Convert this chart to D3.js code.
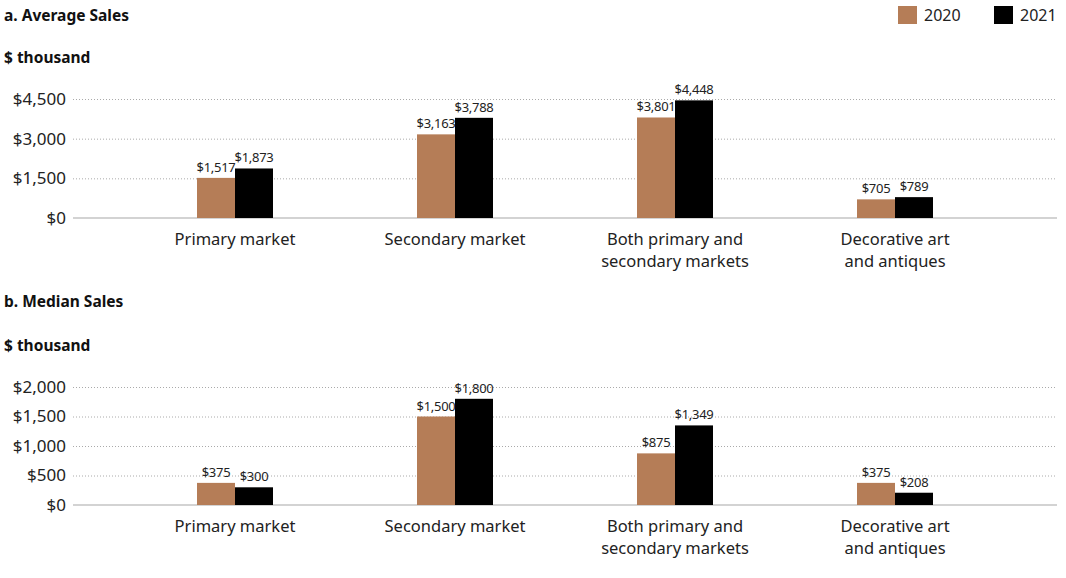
<!DOCTYPE html>
<html><head><meta charset="utf-8">
<script src="https://cdn.jsdelivr.net/npm/d3@7"></script>
<style>body{margin:0;background:#fff;}svg{display:block;font-family:"Noto Sans","Open Sans",sans-serif;}</style>
</head><body>
<svg id="c" width="1066" height="578"></svg>
<script>
const categories = [["Primary market"],["Secondary market"],["Both primary and","secondary markets"],["Decorative art","and antiques"]];
const categoryKeys = ["Primary market","Secondary market","Both primary and secondary markets","Decorative art and antiques"];
const seriesNames = ["2020","2021"];
const avg2020 = [1517,3163,3801,705];
const avg2021 = [1873,3788,4448,789];
const med2020 = [375,1500,875,375];
const med2021 = [300,1800,1349,208];
const avgTicks = [0,1500,3000,4500];
const medTicks = [0,500,1000,1500,2000];
const colors = ["#b57d57","#000000"];

const svg = d3.select("#c");
const fmt = d3.format(",");

// legend
const lg = svg.append("g");
[[898,924],[994,1020]].forEach((p,i)=>{
  lg.append("rect").attr("x",p[0]).attr("y",6).attr("width",19).attr("height",18).attr("fill",colors[i]);
  lg.append("text").attr("x",p[1]).attr("y",21).attr("font-size",16).attr("fill","#222").text(seriesNames[i]);
});

function panel(title, yTitle, titleY, unitY, top, bottom, maxV, ticks, s1, s2){
  svg.append("text").attr("x",4).attr("y",titleY).attr("font-size",15.5).attr("font-weight","bold").attr("fill","#111").text(title);
  svg.append("text").attr("x",4).attr("y",unitY).attr("font-size",15.5).attr("font-weight","bold").attr("fill","#111").text(yTitle);
  const y = d3.scaleLinear().domain([0,maxV]).range([bottom,top]);
  const x = d3.scaleBand().domain(categoryKeys).range([125,1005]);
  const x1 = d3.scaleBand().domain(seriesNames).range([x.bandwidth()/2-38, x.bandwidth()/2+38]);
  const g = svg.append("g");
  const ax = d3.axisLeft(y).tickValues(ticks).tickSize(0).tickPadding(0).tickFormat(d=>"$"+fmt(d));
  const axg = g.append("g").attr("transform","translate(66,0)").call(ax);
  axg.select(".domain").remove();
  axg.selectAll("text").attr("font-size",17).attr("fill","#222").attr("font-family","Noto Sans, sans-serif");
  ticks.forEach(t=>{
    if(t===0){
      g.append("line").attr("x1",73).attr("x2",1057).attr("y1",y(t)).attr("y2",y(t)).attr("stroke","#c4c4c4").attr("stroke-width",1.5);
    } else {
      g.append("line").attr("x1",73).attr("x2",1057).attr("y1",y(t)+0.5).attr("y2",y(t)+0.5).attr("stroke","#aaa").attr("stroke-width",1).attr("stroke-dasharray","1,2");
    }
  });
  const data = categoryKeys.map((k,i)=>({k, vals:[s1[i],s2[i]]}));
  const gg = g.selectAll(".grp").data(data).join("g").attr("transform",d=>`translate(${x(d.k)},0)`);
  gg.selectAll("rect").data(d=>d.vals.map((v,j)=>({v,s:seriesNames[j],j}))).join("rect")
    .attr("x",d=>x1(d.s)).attr("width",x1.bandwidth()).attr("y",d=>y(d.v)).attr("height",d=>y(0)-y(d.v)).attr("fill",d=>colors[d.j]);
  gg.selectAll("text.v").data(d=>d.vals.map((v,j)=>({v,s:seriesNames[j],j}))).join("text").attr("class","v")
    .attr("x",d=>x1(d.s)+x1.bandwidth()/2).attr("y",d=>y(d.v)-6).attr("text-anchor","middle").attr("font-size",13).attr("fill","#222")
    .attr("letter-spacing","-0.3").text(d=>"$"+fmt(d.v));
  categories.forEach((lines,i)=>{
    const t = g.append("text").attr("x",x(categoryKeys[i])+x.bandwidth()/2).attr("y",bottom+27).attr("text-anchor","middle").attr("font-size",16.5).attr("fill","#222");
    lines.forEach((l,j)=>t.append("tspan").attr("x",x(categoryKeys[i])+x.bandwidth()/2).attr("dy",j===0?0:22).text(l));
  });
}
panel("a. Average Sales","$ thousand",21,63,99,218,4500,avgTicks,avg2020,avg2021);
panel("b. Median Sales","$ thousand",307,351,387,505,2000,medTicks,med2020,med2021);
</script>
</body></html>
